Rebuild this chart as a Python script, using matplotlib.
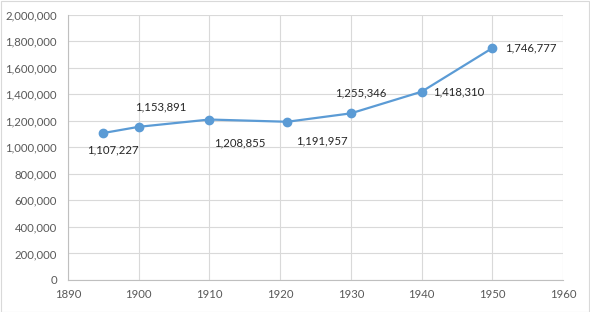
import matplotlib
matplotlib.use("Agg")
import matplotlib.pyplot as plt
from matplotlib.patches import Rectangle

years = [1895, 1900, 1910, 1921, 1930, 1940, 1950]
population = [1107227, 1153891, 1208855, 1191957, 1255346, 1418310, 1746777]
x_ticks = [1890, 1900, 1910, 1920, 1930, 1940, 1950, 1960]
y_ticks = [0, 200000, 400000, 600000, 800000, 1000000, 1200000, 1400000, 1600000, 1800000, 2000000]

# label offsets in points (dx, dy) and horizontal alignment
label_offsets = [(7, -12, "center"), (16, 14, "center"), (22, -17, "center"),
                 (25, -14, "center"), (7, 15, "center"), (8, 0, "left"), (9, 0, "left")]

plt.rcParams['font.family'] = ['Lato', 'DejaVu Sans']
fig = plt.figure(figsize=(5.9, 3.12), dpi=100)
ax = fig.add_axes([68/590, 1-280/312, (563-68)/590, (280-14.5)/312])

ax.plot(years, population, color="#5B9BD5", linewidth=1.6, marker="o",
        markersize=6, zorder=3)

for x, y, (dx, dy, ha) in zip(years, population, label_offsets):
    ax.annotate(f"{y:,}", (x, y), xytext=(dx, dy), textcoords="offset points",
                ha=ha, va="center", fontsize=8.2, color="#262626")

ax.set_xlim(1890, 1960)
ax.set_ylim(0, 2000000)
ax.set_xticks(x_ticks)
ax.set_yticks(y_ticks)
ax.set_xticklabels([str(t) for t in x_ticks])
ax.set_yticklabels([f"{t:,}" for t in y_ticks])
ax.grid(True, color="#D9D9D9", linewidth=0.8)
ax.set_axisbelow(True)
for s in ["top", "right"]:
    ax.spines[s].set_visible(False)
for s in ["left", "bottom"]:
    ax.spines[s].set_color("#BFBFBF")
    ax.spines[s].set_linewidth(0.8)
ax.tick_params(axis="both", length=0, labelsize=8.2, labelcolor="#595959")
ax.tick_params(axis="y", pad=8)
ax.tick_params(axis="x", pad=6.5)

fig.patches.append(Rectangle((0.5/590, 0.5/312), 1-1.5/590, 1-1.5/312,
                             transform=fig.transFigure, fill=False,
                             edgecolor="#D9D9D9", linewidth=0.8))
fig.savefig("out.png", dpi=100)
